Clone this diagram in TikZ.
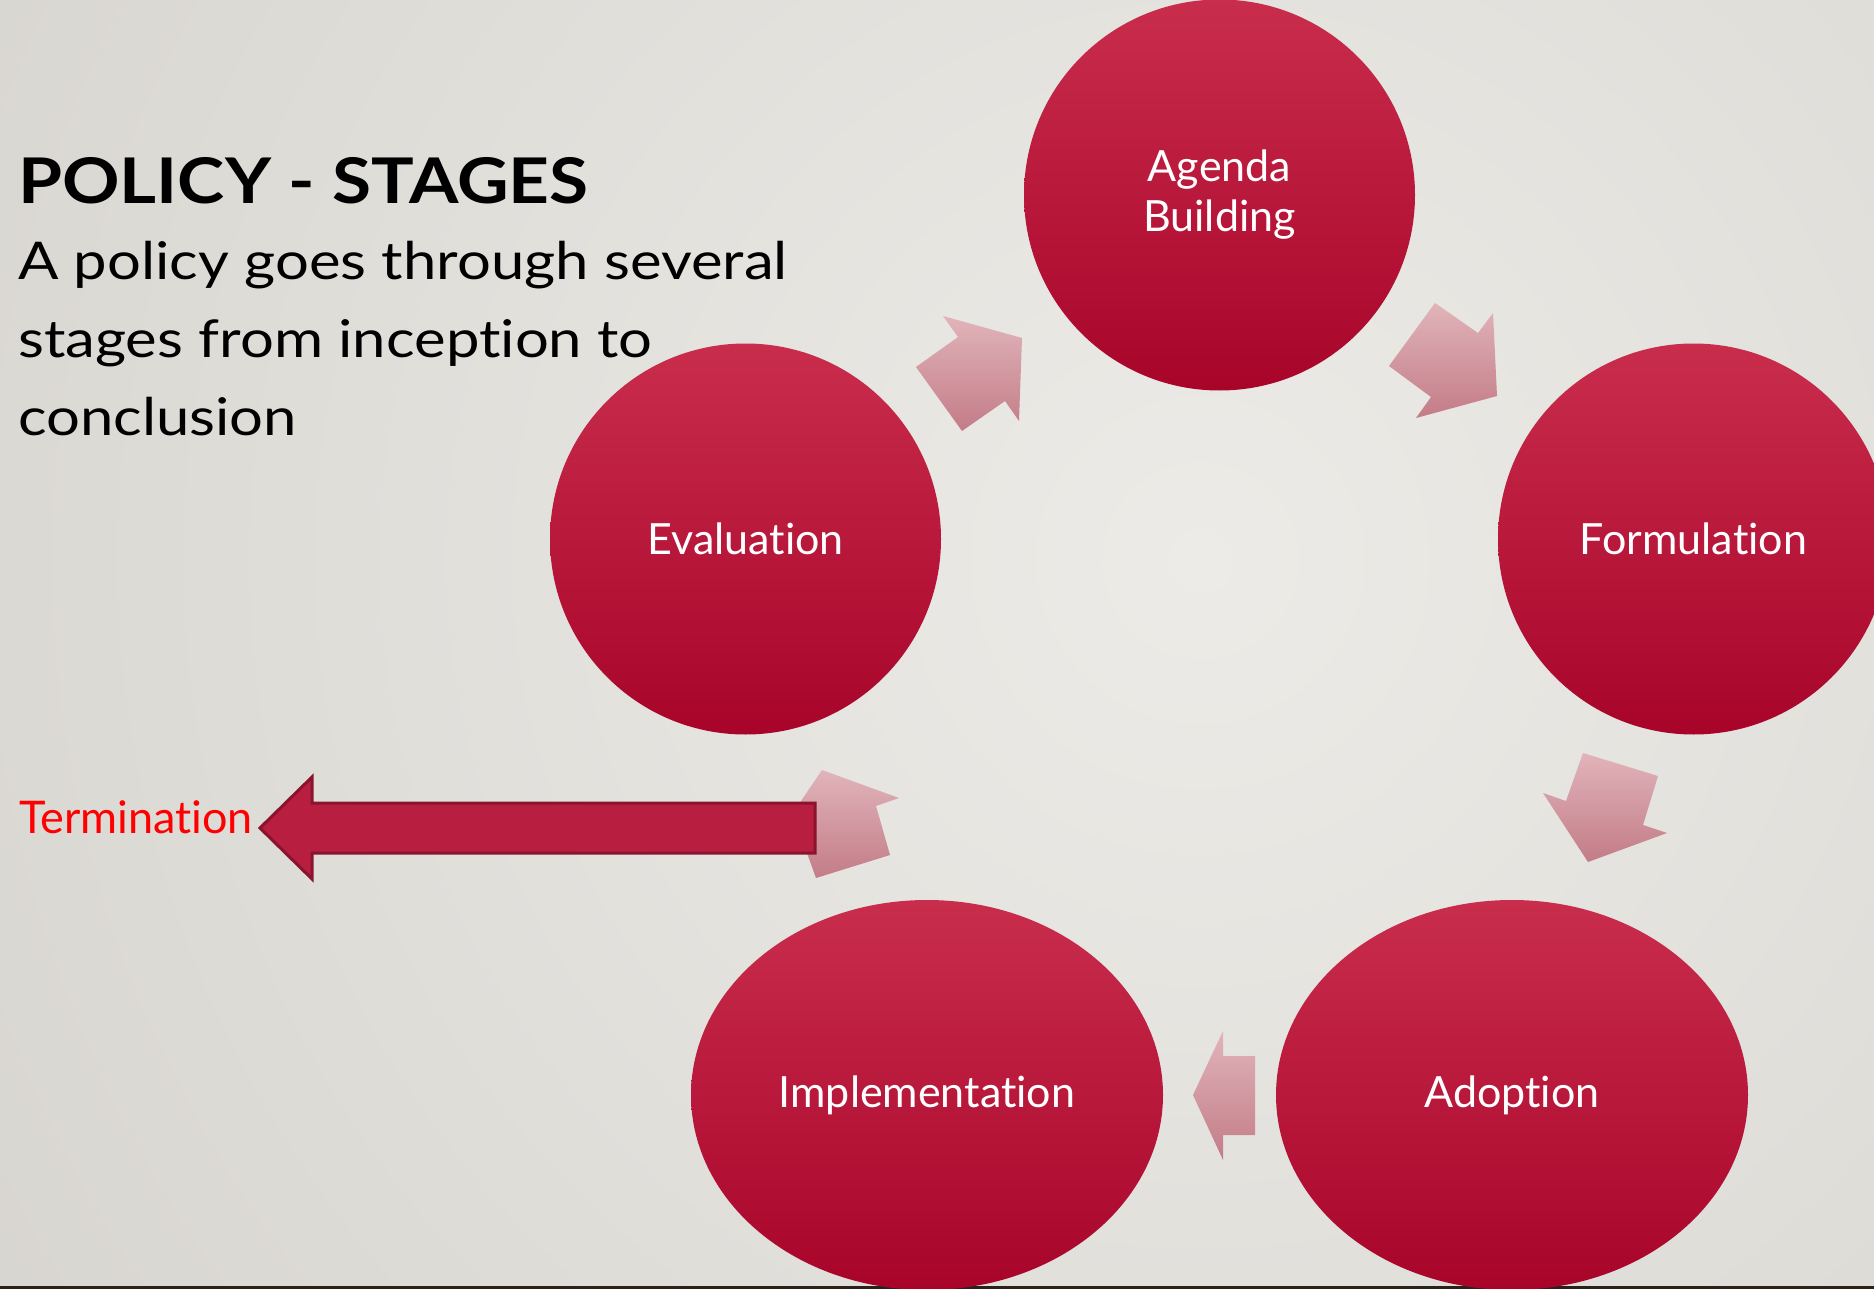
\documentclass[tikz,border=0pt]{standalone}
\usepackage{fontspec}
\setmainfont{Lato}[Ligatures=NoCommon]
\newfontfamily\titlefont{Lato}[Ligatures=NoCommon, FakeStretch=1.13]
\newfontfamily\bodyfont{Lato}[Ligatures=NoCommon, FakeStretch=1.15]
\usetikzlibrary{shapes.geometric}
\definecolor{bgin}{RGB}{236,235,231}
\definecolor{bgout}{RGB}{206,203,197}
\definecolor{circtop}{RGB}{201,45,76}
\definecolor{circbot}{RGB}{168,4,42}
\definecolor{pinktop}{RGB}{225,180,186}
\definecolor{pinkbot}{RGB}{195,124,135}
\definecolor{termfill}{RGB}{184,30,64}
\definecolor{termdraw}{RGB}{138,20,46}
\definecolor{stripcol}{RGB}{42,34,24}
\definecolor{termred}{RGB}{255,0,0}
\begin{document}
\begin{tikzpicture}[x=1pt,y=-1pt,
  stage/.style={circle, minimum size=391pt, inner sep=0pt, top color=circtop, bottom color=circbot,
    text=white, font=\fontsize{43}{50}\selectfont, align=center},
  stageell/.style={ellipse, minimum width=472pt, minimum height=390pt, inner sep=0pt, top color=circtop, bottom color=circbot,
    text=white, font=\fontsize{43}{50}\selectfont},
  cyclearrow/.style={top color=pinktop, bottom color=pinkbot},
  bodytext/.style={anchor=base west, inner sep=0pt, font=\bodyfont\fontsize{52}{60}\selectfont}]
\useasboundingbox (0,0) rectangle (1874,1289);
\clip (0,0) rectangle (1874,1289);
\fill[bgout] (0,0) rectangle (1874,1289);
\shade[inner color=bgin, outer color=bgout] (1200,560) circle (2100);
\fill[stripcol] (0,1286) rectangle (1874,1289);

% stages
\node[stage] (agenda) at (1219.5,195) {Agenda\\Building};
\node[stage] (formulation) at (1693.5,539) {Formulation};
\node[stage] (evaluation) at (745.5,539) {Evaluation};
\node[stageell] (implementation) at (927,1095) {Implementation};
\node[stageell] (adoption) at (1512,1095) {Adoption};

% cycle arrows
\path[cyclearrow] (958,337) -- (943,316) -- (1022,338) -- (1019,421) -- (1005,401) -- (962,431) -- (916,367) -- cycle;
\path[cyclearrow] (1435,303) -- (1478,333) -- (1493,313) -- (1497,396) -- (1416,418) -- (1431,397) -- (1389,366) -- cycle;
\path[cyclearrow] (1583,753) -- (1658,776) -- (1643,825) -- (1667,833) -- (1588,862) -- (1543,793) -- (1566,801) -- cycle;
\path[cyclearrow] (1223,1031) -- (1223,1056) -- (1255,1056) -- (1255,1135) -- (1223,1135) -- (1223,1160) -- (1193,1095) -- cycle;
\path[cyclearrow] (822,770) -- (899,798) -- (876,806) -- (890,855) -- (816,878) -- (799,831) -- (776,838) -- cycle;

% termination
\node[anchor=base west, inner sep=0pt, text=termred, font=\fontsize{45}{52}\selectfont] (termination) at (19,833) {Termination};
\filldraw[fill=termfill, draw=termdraw, line width=3pt, line join=miter]
  (815,803) -- (312,803) -- (312,777) -- (260,828) -- (312,879) -- (312,853) -- (815,853) -- cycle;

% title and text
\node[anchor=base west, inner sep=0pt, font=\titlefont\bfseries\fontsize{63}{70}\selectfont] (title) at (18,204) {POLICY - STAGES};
\node[bodytext] (line1) at (18,280) {A policy goes through several};
\node[bodytext] (line2) at (18,357) {stages from inception to};
\node[bodytext] (line3) at (18,435) {conclusion};
\end{tikzpicture}
\end{document}
